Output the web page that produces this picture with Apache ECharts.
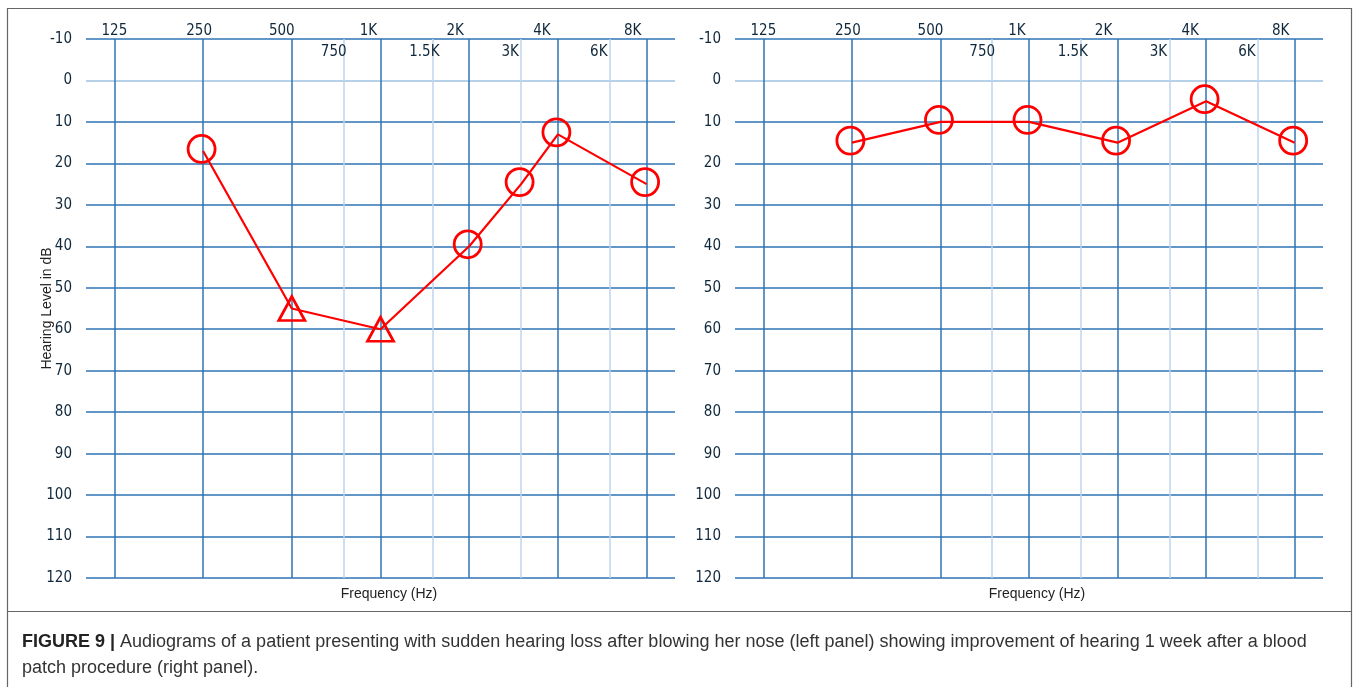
<!DOCTYPE html>
<html>
<head>
<meta charset="utf-8">
<script src="https://cdn.jsdelivr.net/npm/echarts@6/dist/echarts.min.js"></script>
<style>
html,body{margin:0;padding:0;background:#fff;}
#chart{width:1357px;height:687px;}
</style>
</head>
<body>
<div id="chart"></div>
<script>
// ---- data ----
const octaveFreqs = [125, 250, 500, 1000, 2000, 4000, 8000];
const octaveLabels = ['125', '250', '500', '1K', '2K', '4K', '8K'];
const halfFreqs = [750, 1500, 3000, 6000];
const halfLabels = ['750', '1.5K', '3K', '6K'];
const levelMin = -10;
const levelMax = 120;
const levelStep = 10;
const leftFreqs = [250, 500, 1000, 2000, 3000, 4000, 8000];
const leftLevels = [17, 55, 60, 40, 25, 13, 25];
const leftSymbols = ['circle', 'triangle', 'triangle', 'circle', 'circle', 'circle', 'circle'];
const rightFreqs = [250, 500, 1000, 2000, 4000, 8000];
const rightLevels = [15, 10, 10, 15, 5, 15];
const captionBold = 'FIGURE 9 |';
const captionLine1 = 'Audiograms of a patient presenting with sudden hearing loss after blowing her nose (left panel) showing improvement of hearing 1 week after a blood';
const captionLine2 = 'patch procedure (right panel).';

// ---- styling ----
const octaveShift = [0, 4, 10, 12, 14, 16, 14];
const halfShift = [10, 8, 11, 11];
const DARK = '#2f74b5';
const LIGHT = '#bcd5eb';
const ZERO = '#9fc2e0';
const LABEL = '#10283c';
const NUMFONT = 'DejaVu Sans Condensed, Liberation Sans, sans-serif';
const NUMSIZE = 15;
const TXTFONT = 'Liberation Sans, Arial, sans-serif';

const oct = f => Math.log2(f / 125);
const xMin = -0.32, xMax = 6.32;
const octavePos = octaveFreqs.map(oct);
const halfPos = halfFreqs.map(oct);

function idxOf(arr, v) {
  let best = 0, d = Infinity;
  arr.forEach((a, i) => { if (Math.abs(a - v) < d) { d = Math.abs(a - v); best = i; } });
  return best;
}
function richFor(shifts, prefix) {
  const r = {};
  shifts.forEach((s, i) => {
    r[prefix + i] = { padding: [0, 2 * s, 0, 0], fontSize: NUMSIZE, fontFamily: NUMFONT, color: LABEL };
  });
  return r;
}

const yTickCount = Math.round((levelMax - levelMin) / levelStep) + 1;
const yLineColors = [];
for (let i = 0; i < yTickCount; i++) {
  yLineColors.push(levelMin + i * levelStep === 0 ? ZERO : DARK);
}

const grids = [
  { left: 86, top: 39, width: 589, height: 539 },
  { left: 735, top: 39, width: 588, height: 539 }
];

const xAxes = [];
const yAxes = [];
[0, 1].forEach(g => {
  // octave axis (top)
  xAxes.push({
    type: 'value', gridIndex: g, position: 'top', min: xMin, max: xMax,
    axisLine: { show: false },
    axisTick: { show: false, customValues: octavePos },
    axisLabel: {
      customValues: octavePos, margin: 0,
      fontSize: NUMSIZE, fontFamily: NUMFONT, color: LABEL,
      formatter: v => { const i = idxOf(octavePos, v); return '{o' + i + '|' + octaveLabels[i] + '}'; },
      rich: richFor(octaveShift, 'o')
    },
    splitLine: { show: true, lineStyle: { color: DARK, width: 1.5 } },
    z: 3
  });
  // half-octave axis (placed at top, labels below the top line)
  xAxes.push({
    type: 'value', gridIndex: g, position: 'bottom', offset: -539, min: xMin, max: xMax,
    axisLine: { show: false },
    axisTick: { show: false, customValues: halfPos },
    axisLabel: {
      customValues: halfPos, margin: 6,
      fontSize: NUMSIZE, fontFamily: NUMFONT, color: LABEL,
      formatter: v => { const i = idxOf(halfPos, v); return '{h' + i + '|' + halfLabels[i] + '}'; },
      rich: richFor(halfShift, 'h')
    },
    splitLine: { show: true, lineStyle: { color: LIGHT, width: 1.5 } },
    z: 2
  });
  yAxes.push({
    type: 'value', gridIndex: g, inverse: true,
    min: levelMin, max: levelMax, interval: levelStep,
    axisLine: { show: false }, axisTick: { show: false },
    axisLabel: { margin: 14, fontSize: NUMSIZE, fontFamily: NUMFONT, color: LABEL },
    splitLine: { show: true, lineStyle: { color: yLineColors, width: 1.5 } },
    name: g === 0 ? 'Hearing Level in dB' : '',
    nameLocation: 'middle', nameGap: 32, nameRotate: 90, nameMoveOverlap: false,
    nameTextStyle: { fontSize: 14, fontFamily: TXTFONT, color: '#222' }
  });
});

const markerStyle = { color: 'rgba(0,0,0,0)', borderColor: '#ff0000', borderWidth: 2.8 };
function seriesFor(freqs, levels, symbols, xi, yi) {
  return {
    type: 'line', xAxisIndex: xi, yAxisIndex: yi,
    data: freqs.map((f, i) => ({
      value: [oct(f), levels[i]],
      symbol: symbols ? symbols[i] : 'circle',
      symbolSize: (symbols && symbols[i] === 'triangle') ? [26, 24] : 27,
      symbolOffset: (symbols && symbols[i] === 'triangle') ? [0, 0] : [-1.5, -2]
    })),
    lineStyle: { color: '#ff0000', width: 2.2 },
    itemStyle: markerStyle,
    showAllSymbol: true,
    animation: false,
    z: 10
  };
}

const option = {
  animation: false,
  backgroundColor: '#fff',
  grid: grids,
  xAxis: xAxes,
  yAxis: yAxes,
  title: [
    { text: 'Frequency (Hz)', left: 384, top: 582, textAlign: 'center',
      textStyle: { fontSize: 14, fontWeight: 'normal', fontFamily: TXTFONT, color: '#222' } },
    { text: 'Frequency (Hz)', left: 1032, top: 582, textAlign: 'center',
      textStyle: { fontSize: 14, fontWeight: 'normal', fontFamily: TXTFONT, color: '#222' } },
    { text: '{b|' + captionBold + '} {n|' + captionLine1 + '}\n{n|' + captionLine2 + '}',
      left: 17, top: 624,
      textStyle: {
        rich: {
          b: { fontSize: 18, fontWeight: 'bold', fontFamily: TXTFONT, color: '#222', lineHeight: 26 },
          n: { fontSize: 18, fontWeight: 'normal', fontFamily: TXTFONT, color: '#333', lineHeight: 26 }
        }
      } }
  ],
  graphic: [
    { type: 'rect', shape: { x: 7.5, y: 8.5, width: 1344, height: 720 },
      style: { fill: 'none', stroke: '#666', lineWidth: 1.2 }, silent: true },
    { type: 'line', shape: { x1: 7.5, y1: 611.5, x2: 1351.5, y2: 611.5 },
      style: { stroke: '#666', lineWidth: 1.2 }, silent: true }
  ],
  series: [
    seriesFor(leftFreqs, leftLevels, leftSymbols, 0, 0),
    seriesFor(rightFreqs, rightLevels, null, 2, 1)
  ]
};

const chart = echarts.init(document.getElementById('chart'), null, { renderer: 'canvas' });
chart.setOption(option);
</script>
</body>
</html>
